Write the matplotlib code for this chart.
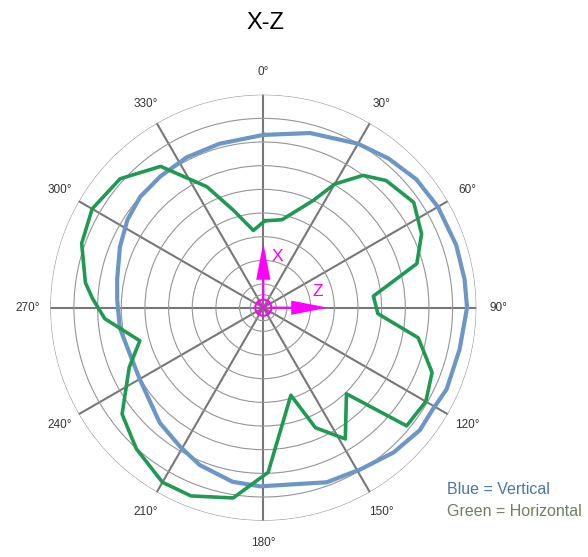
import numpy as np
import matplotlib.pyplot as plt
from matplotlib.patches import Circle

# диаграмма направленности, плоскость X-Z
# радиус в делениях сетки (внешнее кольцо = 9)
blue_deg = [0, 15, 30, 40, 50, 60, 72, 82, 90, 102, 114, 121, 128, 138, 149, 160,
            181, 190, 202, 211, 222, 240, 254, 262, 273, 281, 293, 303, 312, 322,
            333, 345, 360]
blue_r = [7.30, 7.64, 8.00, 8.23, 8.44, 8.52, 8.57, 8.59, 8.61, 8.48, 8.48, 8.35,
          8.40, 8.23, 7.97, 7.85, 7.55, 7.47, 7.17, 6.84, 6.54, 6.03, 5.99, 6.12,
          6.18, 6.29, 6.58, 6.84, 7.00, 7.05, 7.13, 7.17, 7.30]

green_deg = [1, 12, 25, 30, 37, 44, 55, 65, 74, 84, 93, 101, 111, 120, 129.5, 136,
             148, 156.5, 162.5, 178.3, 189, 201, 210, 222, 233, 246, 255, 266, 273,
             278, 289.5, 300, 312, 324, 335, 343, 352.7, 361]
green_r = [3.67, 3.80, 5.00, 6.03, 7.00, 7.47, 7.76, 7.38, 6.75, 4.68, 4.85, 6.67,
           7.64, 7.93, 7.85, 5.06, 6.54, 5.53, 3.88, 6.96, 8.14, 8.52, 8.52, 8.02,
           7.47, 6.20, 5.40, 6.71, 7.22, 7.59, 8.14, 8.35, 8.14, 7.38, 5.64, 4.30,
           3.29, 3.67]

angle_ticks = list(range(0, 360, 30))
rings = [0.55, 1, 2, 3, 4, 5, 6, 7, 8, 9]

fig = plt.figure(figsize=(5.88, 5.57), dpi=100)
rect = [0.0855, 0.0652, 0.7245, 0.7648]
ax = fig.add_axes(rect, projection='polar')
ax.set_theta_zero_location('N')
ax.set_theta_direction(-1)
ax.set_ylim(0, 9)
ax.set_yticks(rings)
ax.set_yticklabels([])
ax.set_xticks(np.radians(angle_ticks))
ax.set_xticklabels([])
ax.spines['polar'].set_visible(False)
ax.yaxis.grid(True, color='#959595', lw=0.8)
ax.xaxis.grid(True, color='#777777', lw=1.5)

for d in angle_ticks:
    ax.text(np.radians(d), 9.95, f'{d}°', ha='center', va='center',
            fontsize=8.5, color='#333333', family='Liberation Sans', clip_on=False)

ax.plot(np.radians(blue_deg), blue_r, color='#6b96c5', lw=3)
ax.plot(np.radians(green_deg), green_r, color='#1f9a52', lw=2.6)

# оси X и Z в центре
ax2 = fig.add_axes(rect)
ax2.set_xlim(-9, 9)
ax2.set_ylim(-9, 9)
ax2.axis('off')
mag = '#ff00ff'
ax2.add_patch(Circle((0, 0), 0.34, fill=False, ec=mag, lw=1.5))
k = 0.24
ax2.plot([-k, k], [-k, k], color=mag, lw=1.2)
ax2.plot([-k, k], [k, -k], color=mag, lw=1.2)
ax2.arrow(0, 0.34, 0, 2.39, width=0.09, head_width=0.6, head_length=1.55,
          length_includes_head=True, color=mag, lw=0)
ax2.arrow(0.34, 0, 2.39, 0, width=0.09, head_width=0.6, head_length=1.55,
          length_includes_head=True, color=mag, lw=0)
ax2.text(0.58, 2.16, 'X', color=mag, fontsize=12.5, ha='center', va='center',
         family='Liberation Sans')
ax2.text(2.32, 0.68, 'Z', color=mag, fontsize=12.5, ha='center', va='center',
         family='Liberation Sans')

fig.text(0.4507, 0.958, 'X-Z', ha='center', va='center', fontsize=17,
         family='Liberation Sans')
fig.text(447 / 588, 1 - 490 / 557, 'Blue = Vertical', color='#4a76a8',
         fontsize=11.5, va='center', family='Liberation Sans')
fig.text(447 / 588, 1 - 512 / 557, 'Green = Horizontal', color='#6e7f62',
         fontsize=11.5, va='center', family='Liberation Sans')

fig.savefig('out.png', dpi=100)
